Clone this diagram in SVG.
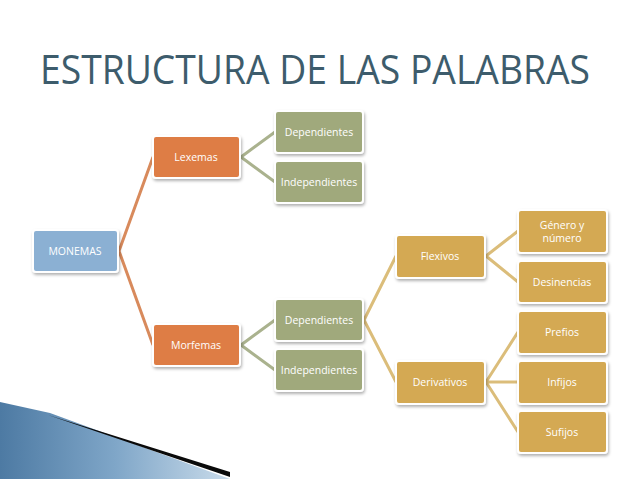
<svg xmlns="http://www.w3.org/2000/svg" width="638" height="479" viewBox="0 0 638 479">
<style>
.b{stroke:#fff;stroke-width:2;filter:url(#sh)}
.t{font-family:"Open Sans","DejaVu Sans",sans-serif;font-size:10.5px;fill:#fff;text-anchor:middle;dominant-baseline:central}
.c{fill:none;stroke-width:3}
</style>
<defs>
<filter id="sh" x="-20%" y="-20%" width="140%" height="150%"><feDropShadow dx="1" dy="2" stdDeviation="1.5" flood-color="#000" flood-opacity="0.3"/></filter>
<linearGradient id="sw" x1="0" y1="0" x2="1" y2="0"><stop offset="0" stop-color="#4d7aa3"/><stop offset="0.5" stop-color="#7fa6c8"/><stop offset="1" stop-color="#c9dbea"/></linearGradient>
</defs>
<rect width="638" height="479" fill="#fff"/>
<polygon points="0,402 50,413 230,479 0,479" fill="url(#sw)"/>
<polygon points="48,415 230,472 230,477" fill="#0a0a0a"/>
<text x="315" y="84" font-family="'Open Sans','DejaVu Sans',sans-serif" font-size="40" fill="#3d5c6c" text-anchor="middle" textLength="550" lengthAdjust="spacingAndGlyphs">ESTRUCTURA DE LAS PALABRAS</text>
<g id="connectors">
<path class="c" stroke="#d88a5c" d="M119,251 L153,157 M119,251 L153,345"/>
<path class="c" stroke="#aab28e" d="M241,157 L275,132 M241,157 L275,182 M241,345 L275,320 M241,345 L275,370"/>
<path class="c" stroke="#dbbd7a" d="M364,320 L396,256 M364,320 L396,382 M486,256 L518,231 M486,256 L518,282 M486,382 L518,332 M486,382 L518,382 M486,382 L518,432"/>
</g>
<g id="monemas"><rect class="b" x="33" y="230" width="85" height="42" rx="3" fill="#8bb0d3"/><text class="t" x="75" y="251">MONEMAS</text></g>
<g id="lexemas"><rect class="b" x="153" y="136" width="87" height="42" rx="3" fill="#de7d45"/><text class="t" x="196" y="157">Lexemas</text></g>
<g id="morfemas"><rect class="b" x="153" y="324" width="87" height="42" rx="3" fill="#de7d45"/><text class="t" x="196" y="345">Morfemas</text></g>
<g id="lex-dep"><rect class="b" x="275" y="111" width="88" height="42" rx="3" fill="#a0a97c"/><text class="t" x="319" y="132">Dependientes</text></g>
<g id="lex-ind"><rect class="b" x="275" y="161" width="88" height="42" rx="3" fill="#a0a97c"/><text class="t" x="319" y="182">Independientes</text></g>
<g id="mor-dep"><rect class="b" x="275" y="299" width="88" height="42" rx="3" fill="#a0a97c"/><text class="t" x="319" y="320">Dependientes</text></g>
<g id="mor-ind"><rect class="b" x="275" y="349" width="88" height="42" rx="3" fill="#a0a97c"/><text class="t" x="319" y="370">Independientes</text></g>
<g id="flexivos"><rect class="b" x="396" y="235" width="89" height="43" rx="3" fill="#d4a952"/><text class="t" x="440" y="256">Flexivos</text></g>
<g id="derivativos"><rect class="b" x="396" y="361" width="89" height="43" rx="3" fill="#d4a952"/><text class="t" x="440" y="382">Derivativos</text></g>
<g id="genero"><rect class="b" x="518" y="210" width="89" height="43" rx="3" fill="#d4a952"/><text class="t" x="562" y="225">Género y</text><text class="t" x="562" y="238">número</text></g>
<g id="desinencias"><rect class="b" x="518" y="261" width="89" height="42" rx="3" fill="#d4a952"/><text class="t" x="562" y="282">Desinencias</text></g>
<g id="prefios"><rect class="b" x="518" y="311" width="89" height="43" rx="3" fill="#d4a952"/><text class="t" x="562" y="332">Prefios</text></g>
<g id="infijos"><rect class="b" x="518" y="361" width="89" height="43" rx="3" fill="#d4a952"/><text class="t" x="562" y="382">Infijos</text></g>
<g id="sufijos"><rect class="b" x="518" y="411" width="89" height="42" rx="3" fill="#d4a952"/><text class="t" x="562" y="432">Sufijos</text></g>
</svg>
